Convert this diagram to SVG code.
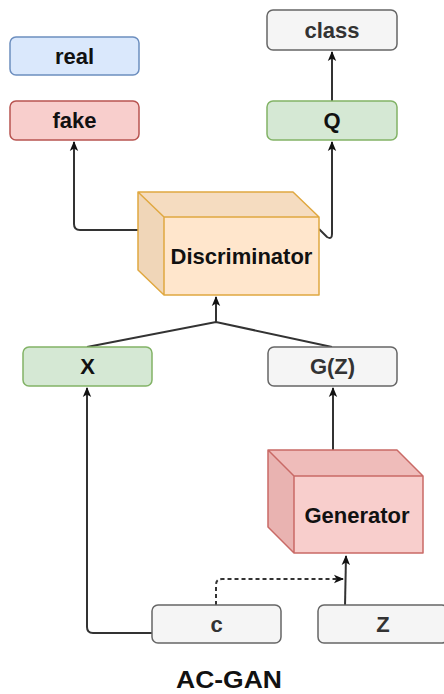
<svg xmlns="http://www.w3.org/2000/svg" width="444" height="694" viewBox="0 0 444 694">
<style>
.lbl{font-family:"Liberation Sans",Arial,sans-serif;font-weight:bold;font-size:22px;fill:#111;text-anchor:middle;dominant-baseline:central}
.grey{fill:#333}
.edge{fill:none;stroke:#333;stroke-width:2}
.dash{stroke-dasharray:4 3}
</style>
<defs>
<marker id="arr" viewBox="0 0 10 10" refX="9" refY="5" markerWidth="10" markerHeight="10" markerUnits="userSpaceOnUse" orient="auto">
<path d="M0,0.8 L10,5 L0,9.2 L2.5,5 Z" fill="#111"/>
</marker>
</defs>
<rect width="444" height="694" fill="#fff"/>
<g id="connectors">
<path class="edge" d="M332,101 L332,52" marker-end="url(#arr)"/>
<path class="edge" d="M138,230 L80,230 Q74,230 74,224 L74,142" marker-end="url(#arr)"/>
<path class="edge" d="M319,229 L327,237 Q332,240 332,234 L332,142" marker-end="url(#arr)"/>
<path class="edge" d="M87,347 L216,322 L332,347"/>
<path class="edge" d="M216,322 L216,297" marker-end="url(#arr)"/>
<path class="edge" d="M333,450 L333,388" marker-end="url(#arr)"/>
<path class="edge" d="M345,606 L346,556" marker-end="url(#arr)"/>
<path class="edge" d="M152,633 L93,633 Q87,633 87,627 L87,388" marker-end="url(#arr)"/>
<path class="edge dash" d="M216,605 L216,585 Q216,579 222,579 L343,579" marker-end="url(#arr)"/>
</g>
<g id="real"><rect x="10" y="37" width="129" height="38" rx="6" fill="#dae8fc" stroke="#6c8ebf" stroke-width="1.5"/><text class="lbl" x="74.5" y="56">real</text></g>
<g id="fake"><rect x="10" y="101" width="129" height="39" rx="6" fill="#f8cecc" stroke="#b85450" stroke-width="1.5"/><text class="lbl" x="74.5" y="120.5">fake</text></g>
<g id="class"><rect x="267" y="10" width="130" height="40" rx="6" fill="#f5f5f5" stroke="#666" stroke-width="1.5"/><text class="lbl grey" x="332" y="30">class</text></g>
<g id="Q"><rect x="267" y="101" width="130" height="39" rx="6" fill="#d5e8d4" stroke="#82b366" stroke-width="1.5"/><text class="lbl" x="332" y="120.5">Q</text></g>
<g id="discriminator">
<path d="M138,192 L293,192 L319,217 L164,217 Z" fill="#f5dcc0"/>
<path d="M138,192 L164,217 L164,295 L138,270 Z" fill="#f0d6b8"/>
<rect x="164" y="217" width="155" height="78" fill="#ffe6cc"/>
<path d="M138,192 L293,192 L319,217 L319,295 L164,295 L138,270 Z M138,192 L164,217 L319,217 M164,217 L164,295" fill="none" stroke="#e0a840" stroke-width="1.5" stroke-linejoin="round"/>
<text class="lbl" x="241.5" y="256">Discriminator</text>
</g>
<g id="X"><rect x="23" y="347" width="129" height="39" rx="6" fill="#d5e8d4" stroke="#82b366" stroke-width="1.5"/><text class="lbl" x="87.5" y="366.5">X</text></g>
<g id="GZ"><rect x="268" y="347" width="129" height="39" rx="6" fill="#f5f5f5" stroke="#666" stroke-width="1.5"/><text class="lbl grey" x="332.5" y="366.5">G(Z)</text></g>
<g id="generator">
<path d="M268,450 L397,450 L423,476 L294,476 Z" fill="#efbcba"/>
<path d="M268,450 L294,476 L294,553 L268,527 Z" fill="#e9b3b1"/>
<rect x="294" y="476" width="129" height="77" fill="#f8cecc"/>
<path d="M268,450 L397,450 L423,476 L423,553 L294,553 L268,527 Z M268,450 L294,476 L423,476 M294,476 L294,553" fill="none" stroke="#c96a66" stroke-width="1.5" stroke-linejoin="round"/>
<text class="lbl" x="357" y="515">Generator</text>
</g>
<g id="c"><rect x="152" y="605" width="129" height="38" rx="6" fill="#f5f5f5" stroke="#666" stroke-width="1.5"/><text class="lbl grey" x="216.5" y="624">c</text></g>
<g id="Z"><rect x="318" y="605" width="130" height="38" rx="6" fill="#f5f5f5" stroke="#666" stroke-width="1.5"/><text class="lbl grey" x="383" y="624">Z</text></g>
<text x="229" y="688" font-family="'Liberation Sans',Arial,sans-serif" font-weight="bold" font-size="23" fill="#111" text-anchor="middle" textLength="106" lengthAdjust="spacingAndGlyphs">AC-GAN</text>
</svg>
